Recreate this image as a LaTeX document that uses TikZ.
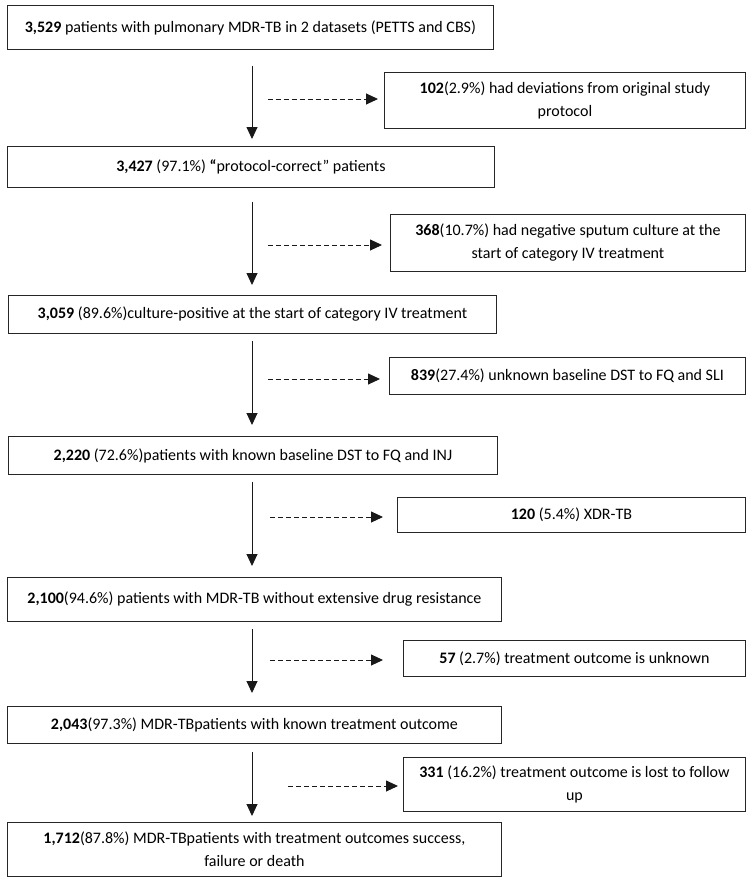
\documentclass[tikz,border=0pt]{standalone}
\usepackage{fontspec}
\setmainfont{Carlito}
\usetikzlibrary{arrows.meta,positioning}

\begin{document}
\begin{tikzpicture}[x=1pt,y=-1pt,
	every node/.style={align=center,font=\fontsize{16}{23}\selectfont},
	mainbox/.style={draw=black!85,line width=0.9pt,anchor=north west,inner sep=0pt},
	sidebox/.style={mainbox},
	flow/.style={-{Triangle[length=12pt,width=11pt]},line width=0.9pt,draw=black!90},
	skip/.style={flow,dash pattern=on 5pt off 3pt}]
	\useasboundingbox (0,0) rectangle (750,881);

	% main column
	\node[mainbox,minimum width=486pt,minimum height=44pt] (b1) at (7,5)
		{\textbf{3,529} patients with pulmonary MDR-TB in 2 datasets (PETTS and CBS)};
	\node[mainbox,minimum width=487pt,minimum height=41pt] (b2) at (7,146)
		{\textbf{3,427} (97.1\%) \textbf{“}protocol-correct” patients};
	\node[mainbox,minimum width=488pt,minimum height=38pt] (b3) at (8,295)
		{\textbf{3,059} (89.6\%)culture-positive at the start of category IV treatment};
	\node[mainbox,minimum width=489pt,minimum height=38pt] (b4) at (8,436)
		{\textbf{2,220} (72.6\%)patients with known baseline DST to FQ and INJ};
	\node[mainbox,minimum width=494pt,minimum height=44pt] (b5) at (7,577)
		{\textbf{2,100}(94.6\%) patients with MDR-TB without extensive drug resistance};
	\node[mainbox,minimum width=494pt,minimum height=37pt] (b6) at (7,706)
		{\textbf{2,043}(97.3\%) MDR-TBpatients with known treatment outcome};
	\node[mainbox,minimum width=494pt,minimum height=54pt] (b7) at (7,822)
		{\textbf{1,712}(87.8\%) MDR-TBpatients with treatment outcomes success,\\ failure or death};

	% excluded
	\node[sidebox,minimum width=361pt,minimum height=56pt] (s1) at (384,72)
		{\textbf{102}(2.9\%) had deviations from original study\\ protocol};
	\node[sidebox,minimum width=355pt,minimum height=57pt] (s2) at (390,214)
		{\textbf{368}(10.7\%) had negative sputum culture at the\\ start of category IV treatment};
	\node[sidebox,minimum width=356pt,minimum height=37pt] (s3) at (389,357)
		{\textbf{839}(27.4\%) unknown baseline DST to FQ and SLI};
	\node[sidebox,minimum width=348pt,minimum height=35pt] (s4) at (397,497)
		{\textbf{120} (5.4\%) XDR-TB};
	\node[sidebox,minimum width=342pt,minimum height=36pt] (s5) at (403,640)
		{\textbf{57} (2.7\%) treatment outcome is unknown};
	\node[sidebox,minimum width=342pt,minimum height=54pt] (s6) at (403,757)
		{\textbf{331} (16.2\%) treatment outcome is lost to follow\\ up};

	% arrows down
	\coordinate (v) at (252,0);
	\draw[flow,shorten <=16pt,shorten >=7pt] (b1.south -| v) -- (b2.north -| v);
	\draw[flow,shorten <=14pt,shorten >=10pt] (b2.south -| v) -- (b3.north -| v);
	\draw[flow,shorten <=7pt,shorten >=11pt] (b3.south -| v) -- (b4.north -| v);
	\draw[flow,shorten <=7pt,shorten >=11pt] (b4.south -| v) -- (b5.north -| v);
	\draw[flow,shorten <=7pt,shorten >=13pt] (b5.south -| v) -- (b6.north -| v);
	\draw[flow,shorten <=8pt,shorten >=6pt] (b6.south -| v) -- (b7.north -| v);

	% dashed arrows out
	\coordinate (d1) at (268,99);
	\coordinate (d2) at (268,245);
	\coordinate (d3) at (268,379);
	\coordinate (d4) at (270,517);
	\coordinate (d5) at (270,660);
	\coordinate (d6) at (288,786);
	\draw[skip,shorten >=6pt] (d1) -- (d1 -| s1.west);
	\draw[skip,shorten >=8pt] (d2) -- (d2 -| s2.west);
	\draw[skip,shorten >=9pt] (d3) -- (d3 -| s3.west);
	\draw[skip,shorten >=14pt] (d4) -- (d4 -| s4.west);
	\draw[skip,shorten >=20pt] (d5) -- (d5 -| s5.west);
	\draw[skip,shorten >=5pt] (d6) -- (d6 -| s6.west);
\end{tikzpicture}
\end{document}
